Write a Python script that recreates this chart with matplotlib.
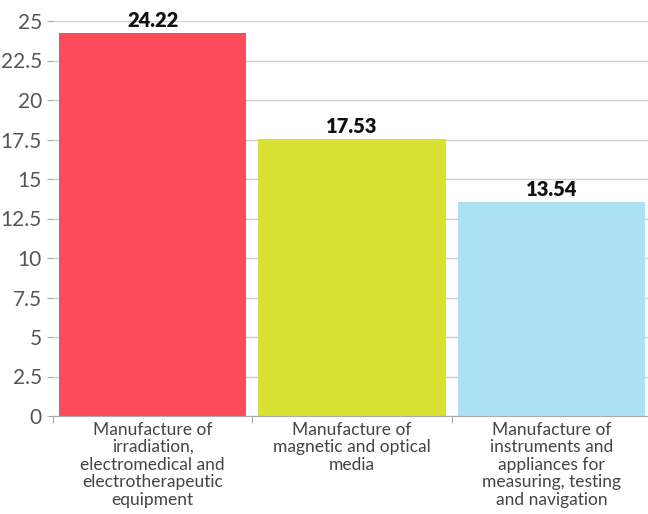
import matplotlib
matplotlib.use("Agg")
import matplotlib.pyplot as plt

categories = [
    "Manufacture of\nirradiation,\nelectromedical and\nelectrotherapeutic\nequipment",
    "Manufacture of\nmagnetic and optical\nmedia",
    "Manufacture of\ninstruments and\nappliances for\nmeasuring, testing\nand navigation",
]
values = [24.22, 17.53, 13.54]
colors = ["#FC4B5B", "#D8E032", "#ACE0F3"]
yticks = [0, 2.5, 5, 7.5, 10, 12.5, 15, 17.5, 20, 22.5, 25]
ytick_labels = ["0", "2.5", "5", "7.5", "10", "12.5", "15", "17.5", "20", "22.5", "25"]

plt.rcParams['font.family'] = ['Lato', 'DejaVu Sans']

fig = plt.figure(figsize=(6.48, 5.14), dpi=100)
ax = fig.add_axes([53/648, 98/514, 598/648, 395/514])

x = list(range(len(categories)))
ax.bar(x, values, width=0.94, color=colors, zorder=3)
for xi, v in zip(x, values):
    ax.text(xi, v + 0.2, f"{v:.2f}", ha="center", va="bottom",
            fontsize=14.5, fontweight="heavy", color="#111111", zorder=4)

ax.set_xlim(-0.5, 2.5)
ax.set_ylim(0, 25)
ax.set_yticks(yticks)
ax.set_yticklabels(ytick_labels, fontsize=15, color="#555555")
ax.set_xticks([-0.5, 0.5, 1.5, 2.5], minor=False)
ax.set_xticklabels([])
ax.set_xticks(x, minor=True)
ax.set_xticklabels(categories, minor=True, fontsize=12.5, color="#444444", linespacing=1.12)
ax.tick_params(axis="x", which="minor", length=0, pad=4)
ax.tick_params(axis="x", which="major", length=5, color="#aaaaaa")
ax.tick_params(axis="y", length=4, color="#aaaaaa", pad=4)

ax.grid(axis="y", color="#d0d0d0", linewidth=1, zorder=0)
for s in ["top", "right", "left"]:
    ax.spines[s].set_visible(False)
ax.spines["bottom"].set_color("#aaaaaa")
ax.spines["bottom"].set_zorder(5)

fig.savefig("out.png", dpi=100)
